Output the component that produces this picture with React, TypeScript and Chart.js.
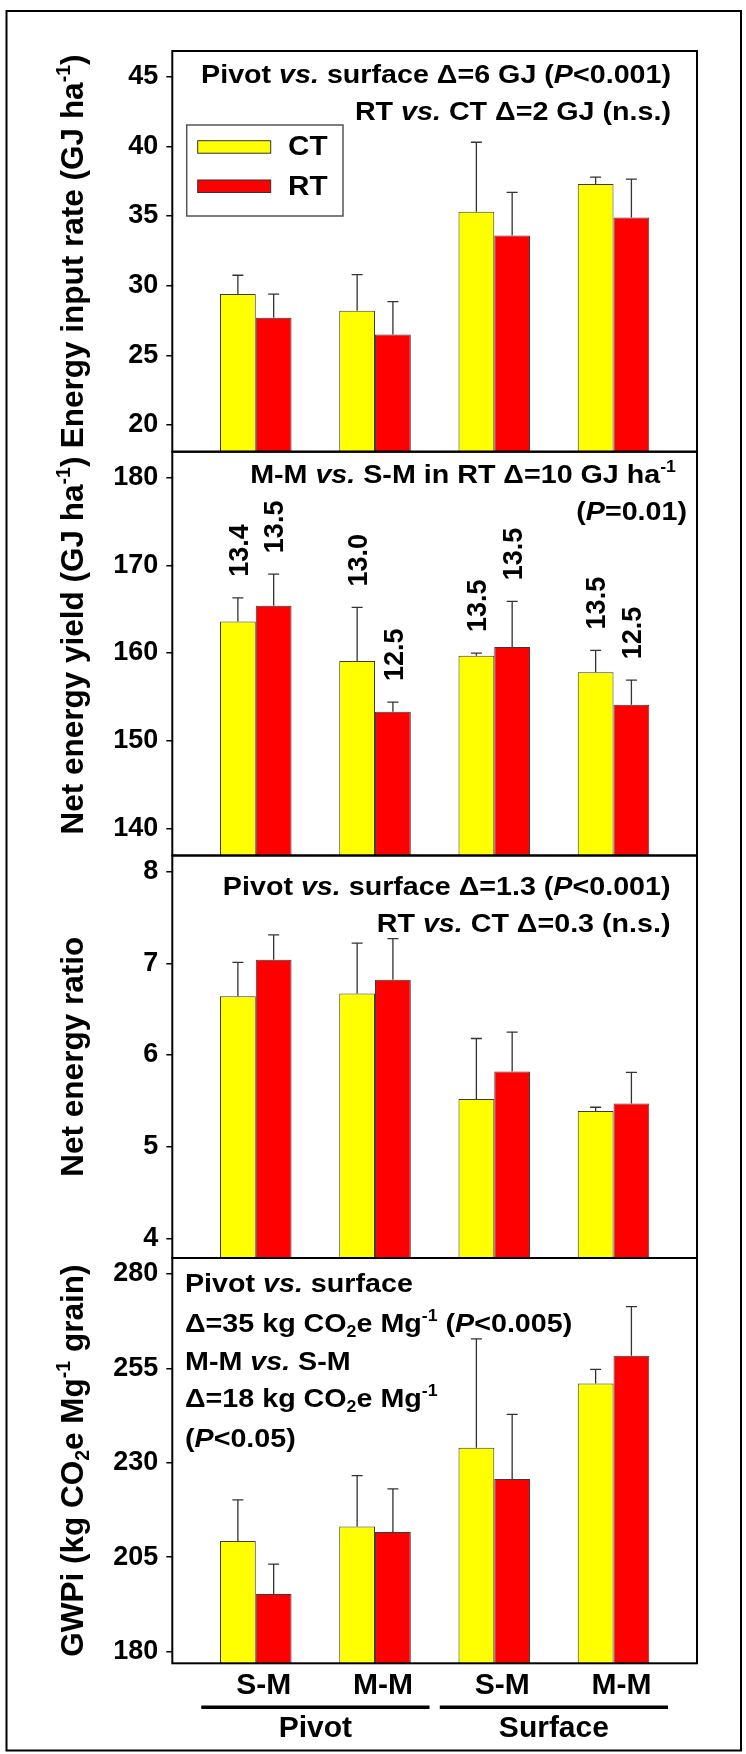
import React, { useEffect, useRef } from 'react';
import { Chart, registerables } from 'chart.js';

Chart.register(...registerables);

const FAMILY = '"Liberation Sans", Arial, Helvetica, sans-serif';

// ---------------- data ----------------
const categories = ['S-M', 'M-M', 'S-M', 'M-M'];
const systems = ['Pivot', 'Surface'];
const tillage = ['CT', 'RT'];

const energyInputCT = [29.4, 28.2, 35.3, 37.3];
const energyInputCTse = [1.35, 2.6, 5.0, 0.5];
const energyInputRT = [27.7, 26.5, 33.6, 34.9];
const energyInputRTse = [1.7, 2.35, 3.1, 2.75];

const netYieldCT = [163.6, 159.1, 159.7, 157.8];
const netYieldCTse = [2.7, 6.1, 0.3, 2.5];
const netYieldRT = [165.4, 153.3, 160.7, 154.1];
const netYieldRTse = [3.6, 1.1, 5.2, 2.8];
const yieldLabelsCT = ['13.4', '13.0', '13.5', '13.5'];
const yieldLabelsRT = ['13.5', '12.5', '13.5', '12.5'];

const ratioCT = [6.64, 6.67, 5.52, 5.39];
const ratioCTse = [0.37, 0.55, 0.66, 0.04];
const ratioRT = [7.04, 6.82, 5.82, 5.47];
const ratioRTse = [0.27, 0.45, 0.43, 0.34];

const gwpCT = [209.3, 213.1, 234.0, 251.0];
const gwpCTse = [10.9, 13.5, 28.8, 3.7];
const gwpRT = [195.3, 211.7, 225.7, 258.3];
const gwpRTse = [7.9, 11.4, 17.1, 13.0];

const ticksEnergy = [20, 25, 30, 35, 40, 45];
const ticksYield = [140, 150, 160, 170, 180];
const ticksRatio = [4, 5, 6, 7, 8];
const ticksGwp = [180, 205, 230, 255, 280];

// ---------------- text helpers ----------------
type Seg = { t: string; i?: boolean; sup?: boolean; sub?: boolean };
const R = (t: string): Seg => ({ t });
const It = (t: string): Seg => ({ t, i: true });
const Sup = (t: string): Seg => ({ t, sup: true });
const Sub = (t: string): Seg => ({ t, sub: true });

function fontFor(size: number, s: Seg) {
  const sz = s.sup || s.sub ? size * 0.62 : size;
  return `${s.i ? 'italic ' : ''}bold ${sz}px ${FAMILY}`;
}
function richWidth(ctx: CanvasRenderingContext2D, segs: Seg[], size: number) {
  let w = 0;
  for (const s of segs) {
    ctx.font = fontFor(size, s);
    w += ctx.measureText(s.t).width;
  }
  return w;
}
function drawRich(
  ctx: CanvasRenderingContext2D,
  segs: Seg[],
  x: number,
  y: number,
  size: number,
  align: 'left' | 'right' | 'center',
  stretch = 1,
  rotate = 0
) {
  ctx.save();
  ctx.translate(x, y);
  if (rotate) ctx.rotate(rotate);
  ctx.scale(stretch, 1);
  ctx.textAlign = 'left';
  ctx.textBaseline = 'alphabetic';
  ctx.fillStyle = '#000';
  const w = richWidth(ctx, segs, size);
  let cx = align === 'left' ? 0 : align === 'right' ? -w : -w / 2;
  for (const s of segs) {
    ctx.font = fontFor(size, s);
    const dy = s.sup ? -size * 0.4 : s.sub ? size * 0.2 : 0;
    ctx.fillText(s.t, cx, dy);
    cx += ctx.measureText(s.t).width;
  }
  ctx.restore();
}

type Note = { segs: Seg[]; align: 'left' | 'right'; dx: number; dy: number };

const panels = [
  {
    id: 'y1', ct: energyInputCT, ctErr: energyInputCTse, rt: energyInputRT, rtErr: energyInputRTse,
    ticks: ticksEnergy, min: 18.08, max: 46.85, share: 400.7, order: 4,
    ctLabels: null as string[] | null, rtLabels: null as string[] | null,
    title: [R('Energy input rate (GJ ha'), Sup('-1'), R(')')], titleShift: 0,
    notes: [
      { segs: [R('Pivot '), It('vs.'), R(' surface \u0394=6 GJ ('), It('P'), R('<0.001)')], align: 'right', dx: -26, dy: 32.3 },
      { segs: [R('RT '), It('vs.'), R(' CT \u0394=2 GJ (n.s.)')], align: 'right', dx: -26, dy: 69 },
    ] as Note[],
    legend: true,
  },
  {
    id: 'y2', ct: netYieldCT, ctErr: netYieldCTse, rt: netYieldRT, rtErr: netYieldRTse,
    ticks: ticksYield, min: 136.9, max: 182.97, share: 403.8, order: 3,
    ctLabels: yieldLabelsCT, rtLabels: yieldLabelsRT,
    title: [R('Net energy yield (GJ ha'), Sup('-1'), R(')')], titleShift: -8,
    notes: [
      { segs: [R('M-M '), It('vs.'), R(' S-M in RT \u0394=10 GJ ha'), Sup('-1')], align: 'right', dx: -21, dy: 31 },
      { segs: [R('('), It('P'), R('=0.01)')], align: 'right', dx: -10, dy: 68.3 },
    ] as Note[],
    legend: false,
  },
  {
    id: 'y3', ct: ratioCT, ctErr: ratioCTse, rt: ratioRT, rtErr: ratioRTse,
    ticks: ticksRatio, min: 3.785, max: 8.177, share: 402.5, order: 2,
    ctLabels: null, rtLabels: null,
    title: [R('Net energy ratio')], titleShift: 0,
    notes: [
      { segs: [R('Pivot '), It('vs.'), R(' surface \u0394=1.3 ('), It('P'), R('<0.001)')], align: 'right', dx: -26.5, dy: 39.5 },
      { segs: [R('RT '), It('vs.'), R(' CT \u0394=0.3 (n.s.)')], align: 'right', dx: -26.5, dy: 76.2 },
    ] as Note[],
    legend: false,
  },
  {
    id: 'y4', ct: gwpCT, ctErr: gwpCTse, rt: gwpRT, rtErr: gwpRTse,
    ticks: ticksGwp, min: 176.93, max: 284.18, share: 405.3, order: 1,
    ctLabels: null, rtLabels: null,
    title: [R('GWPi (kg CO'), Sub('2'), R('e Mg'), Sup('-1'), R(' grain)')], titleShift: 0,
    notes: [
      { segs: [R('Pivot '), It('vs.'), R(' surface')], align: 'left', dx: 12.7, dy: 33.7 },
      { segs: [R('\u0394=35 kg CO'), Sub('2'), R('e Mg'), Sup('-1'), R(' ('), It('P'), R('<0.005)')], align: 'left', dx: 12.7, dy: 73.7 },
      { segs: [R('M-M '), It('vs.'), R(' S-M')], align: 'left', dx: 12.7, dy: 112 },
      { segs: [R('\u0394=18 kg CO'), Sub('2'), R('e Mg'), Sup('-1')], align: 'left', dx: 12.7, dy: 148.7 },
      { segs: [R('('), It('P'), R('<0.05)')], align: 'left', dx: 12.7, dy: 188.7 },
    ] as Note[],
    legend: false,
  },
];

const COLORS = { CT: '#FFFF00', RT: '#FF0000' } as Record<string, string>;
const NOTE_SIZE = 25.6;
const NOTE_STRETCH = 1.12;

const decorPlugin = {
  id: 'decor',
  afterDraw(chart: any) {
    const ctx: CanvasRenderingContext2D = chart.ctx;
    const area = chart.chartArea;
    const xScale = chart.scales.x;

    // error bars + value labels
    chart.data.datasets.forEach((ds: any, di: number) => {
      const meta = chart.getDatasetMeta(di);
      const yScale = chart.scales[ds.yAxisID];
      meta.data.forEach((el: any, i: number) => {
        const v = ds.data[i].y;
        const top = yScale.getPixelForValue(v + ds.err[i]);
        ctx.save();
        ctx.strokeStyle = '#333';
        ctx.lineWidth = 1.3;
        ctx.beginPath();
        ctx.moveTo(el.x, el.y);
        ctx.lineTo(el.x, top);
        ctx.moveTo(el.x - 5.5, top);
        ctx.lineTo(el.x + 5.5, top);
        ctx.stroke();
        ctx.restore();
        if (ds.valueLabels) {
          const size = 27;
          ctx.save();
          ctx.font = `bold ${size}px ${FAMILY}`;
          ctx.fillStyle = '#000';
          ctx.textAlign = 'left';
          ctx.textBaseline = 'alphabetic';
          ctx.translate(el.x + size * 0.358, top - 21);
          ctx.rotate(-Math.PI / 2);
          ctx.fillText(ds.valueLabels[i], 0, 0);
          ctx.restore();
        }
      });
    });

    // panel frames, notes, titles
    panels.forEach((p) => {
      const s = chart.scales[p.id];
      ctx.save();
      ctx.strokeStyle = '#000';
      ctx.lineWidth = 2;
      ctx.strokeRect(area.left, s.top, area.right - area.left, s.bottom - s.top);
      ctx.restore();

      p.notes.forEach((n) => {
        const x = n.align === 'right' ? area.right + n.dx : area.left + n.dx;
        drawRich(ctx, n.segs, x, s.top + n.dy, NOTE_SIZE, n.align, NOTE_STRETCH);
      });

      drawRich(ctx, p.title, 83, (s.top + s.bottom) / 2 + p.titleShift, 31.5, 'center', 1, -Math.PI / 2);

      if (p.legend) {
        const bx = area.left + 14.4;
        const by = s.top + 74;
        ctx.save();
        ctx.strokeStyle = '#555';
        ctx.lineWidth = 1.5;
        ctx.strokeRect(bx, by, 156.3, 91);
        tillage.forEach((t, k) => {
          const sy = by + 15.7 + k * 39.3;
          ctx.fillStyle = COLORS[t];
          ctx.fillRect(bx + 11, sy, 73, 12.5);
          ctx.strokeStyle = '#333';
          ctx.lineWidth = 1;
          ctx.strokeRect(bx + 11, sy, 73, 12.5);
          drawRich(ctx, [R(t)], bx + 101.3, by + 30 + k * 40, 27, 'left', 1.1);
        });
        ctx.restore();
      }
    });

    // category group labels
    const lineY = area.bottom + 44;
    systems.forEach((name, g) => {
      const c = g * 2 + 0.5;
      const x1 = xScale.getPixelForValue(c - 0.957);
      const x2 = xScale.getPixelForValue(c + 0.957);
      ctx.save();
      ctx.strokeStyle = '#000';
      ctx.lineWidth = 3.5;
      ctx.beginPath();
      ctx.moveTo(x1, lineY);
      ctx.lineTo(x2, lineY);
      ctx.stroke();
      ctx.restore();
      drawRich(ctx, [R(name)], xScale.getPixelForValue(c), area.bottom + 73.4, 30, 'center', 1);
    });

    // outer border
    ctx.save();
    ctx.strokeStyle = '#000';
    ctx.lineWidth = 2;
    ctx.strokeRect(6.5, 11, 734.5, 1739.5);
    ctx.restore();
  },
};

function buildConfig(): any {
  const datasets: any[] = [];
  panels.forEach((p) => {
    datasets.push({
      label: 'CT', stack: 'CT', yAxisID: p.id,
      data: p.ct.map((v, i) => ({ x: i, y: v })), err: p.ctErr, valueLabels: p.ctLabels,
      backgroundColor: COLORS.CT, borderColor: '#3a3a3a', borderWidth: 1, base: p.min,
      categoryPercentage: 0.6, barPercentage: 1.0,
    });
    datasets.push({
      label: 'RT', stack: 'RT', yAxisID: p.id,
      data: p.rt.map((v, i) => ({ x: i, y: v })), err: p.rtErr, valueLabels: p.rtLabels,
      backgroundColor: COLORS.RT, borderColor: '#3a3a3a', borderWidth: 1, base: p.min,
      categoryPercentage: 0.6, barPercentage: 1.0,
    });
  });

  const scales: any = {
    x: {
      type: 'linear', position: 'bottom', min: -0.7, max: 3.7, offset: false,
      grid: { display: false, drawTicks: false }, border: { display: false },
      afterBuildTicks: (s: any) => { s.ticks = categories.map((_, i) => ({ value: i })); },
      afterFit: (s: any) => { s.height = 40; },
      ticks: {
        autoSkip: false, maxRotation: 0, padding: 4, labelOffset: 8, color: '#000',
        font: { family: FAMILY, size: 30, weight: 'bold' },
        callback: (v: any) => categories[v] ?? '',
      },
    },
  };
  panels.forEach((p) => {
    scales[p.id] = {
      type: 'linear', axis: 'y', position: 'left', stack: 'panels', stackWeight: p.share, weight: p.order,
      stacked: false, min: p.min, max: p.max,
      afterBuildTicks: (s: any) => { s.ticks = p.ticks.map((v) => ({ value: v })); },
      afterFit: (s: any) => { s.width = 172.3; },
      grid: { display: true, drawOnChartArea: false, drawTicks: true, tickLength: 6, color: '#000', lineWidth: 1.5 },
      border: { display: false },
      ticks: { autoSkip: false, padding: 8, color: '#000', font: { family: FAMILY, size: 27, weight: 'bold' } },
    };
  });

  return {
    type: 'bar',
    data: { datasets },
    options: {
      animation: false,
      responsive: false,
      devicePixelRatio: 1,
      layout: { padding: { left: 0, right: 49, top: 51, bottom: 50.7 } },
      plugins: { legend: { display: false }, tooltip: { enabled: false } },
      scales,
    },
    plugins: [decorPlugin],
  };
}

export default function App() {
  const ref = useRef<HTMLCanvasElement>(null);
  useEffect(() => {
    const canvas = ref.current;
    if (!canvas) return;
    const chart = new Chart(canvas, buildConfig());
    return () => chart.destroy();
  }, []);
  return (
    <div style={{ position: 'absolute', left: 0, top: 0, width: 746, height: 1754, background: '#fff' }}>
      <canvas ref={ref} width={746} height={1754} style={{ display: 'block', width: 746, height: 1754 }} />
    </div>
  );
}
